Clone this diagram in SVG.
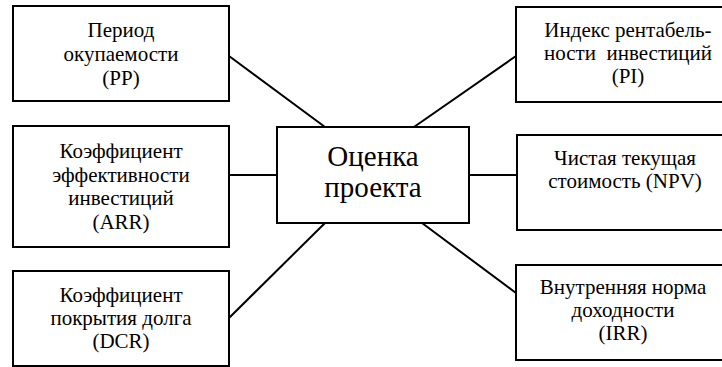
<svg xmlns="http://www.w3.org/2000/svg" width="722" height="367" viewBox="0 0 722 367">
<style>
  .box { fill: #fff; stroke: #000; stroke-width: 2; }
  .conn line { stroke: #000; stroke-width: 2; }
  text { font-family: 'Liberation Serif', 'Times New Roman', serif; font-size: 21px; fill: #000; text-anchor: middle; }
  text.big { font-size: 29px; }
</style>
<rect width="722" height="367" fill="#fff"/>
<g id="connectors" class="conn">
  <line x1="229" y1="56" x2="325" y2="127"/>
  <line x1="516" y1="56" x2="414" y2="127"/>
  <line x1="229" y1="175" x2="277" y2="175"/>
  <line x1="469" y1="175" x2="517" y2="175"/>
  <line x1="229" y1="318" x2="325" y2="223"/>
  <line x1="422" y1="223" x2="516" y2="293"/>
</g>
<g id="center">
  <rect class="box" x="277" y="127" width="192" height="96"/>
  <text class="big" x="373" y="166">Оценка</text>
  <text class="big" x="373" y="197">проекта</text>
</g>
<g id="pp">
  <rect class="box" x="13" y="6" width="216" height="95"/>
  <text x="121" y="37">Период</text>
  <text x="121" y="61">окупаемости</text>
  <text x="121" y="85">(PP)</text>
</g>
<g id="arr">
  <rect class="box" x="13" y="126" width="216" height="121"/>
  <text x="121" y="158">Коэффициент</text>
  <text x="121" y="182">эффективности</text>
  <text x="121" y="205">инвестиций</text>
  <text x="121" y="229">(ARR)</text>
</g>
<g id="dcr">
  <rect class="box" x="13" y="271" width="216" height="95"/>
  <text x="121" y="302">Коэффициент</text>
  <text x="121" y="325">покрытия долга</text>
  <text x="121" y="348">(DCR)</text>
</g>
<g id="pi">
  <rect class="box" x="516" y="7" width="220" height="95"/>
  <text x="628" y="37">Индекс рентабель-</text>
  <text x="628" y="60" xml:space="preserve">ности  инвестиций</text>
  <text x="628" y="83">(PI)</text>
</g>
<g id="npv">
  <rect class="box" x="517" y="135" width="220" height="95"/>
  <text x="625" y="165">Чистая текущая</text>
  <text x="625" y="188">стоимость (NPV)</text>
</g>
<g id="irr">
  <rect class="box" x="516" y="265" width="220" height="95"/>
  <text x="623" y="294">Внутренняя норма</text>
  <text x="623" y="317">доходности</text>
  <text x="623" y="340">(IRR)</text>
</g>
</svg>
